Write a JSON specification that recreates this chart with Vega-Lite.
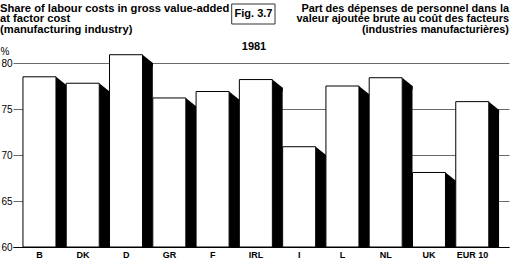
{
  "$schema": "https://vega.github.io/schema/vega-lite/v6.json",
  "width": 496,
  "height": 184,
  "autosize": "none",
  "padding": {"left": 13, "top": 63, "right": 5, "bottom": 21},
  "background": "white",
  "config": {"view": {"stroke": null}, "font": "Liberation Sans"},
  "layer": [
    {
      "data": {
        "values": [
          {"country": "B", "share": 78.5},
          {"country": "DK", "share": 77.8},
          {"country": "D", "share": 80.9},
          {"country": "GR", "share": 76.2},
          {"country": "F", "share": 76.9},
          {"country": "IRL", "share": 78.2},
          {"country": "I", "share": 70.9},
          {"country": "L", "share": 77.5},
          {"country": "NL", "share": 78.4},
          {"country": "UK", "share": 68.1},
          {"country": "EUR 10", "share": 75.8}
        ]
      },
      "encoding": {
        "x": {
          "field": "country",
          "type": "nominal",
          "sort": null,
          "scale": {"paddingInner": 0, "paddingOuter": 0.23},
          "axis": {
            "title": null,
            "domainColor": "black",
            "domainWidth": 1,
            "ticks": false,
            "labelAngle": 0,
            "labelFont": "Liberation Sans",
            "labelFontWeight": "bold",
            "labelFontSize": 9,
            "labelColor": "black",
            "labelPadding": 3,
            "labelOffset": -5
          }
        },
        "y": {
          "field": "share",
          "type": "quantitative",
          "scale": {"domain": [60, 80], "nice": false, "zero": false, "clamp": false},
          "axis": {
            "values": [60, 65, 70, 75, 80],
            "grid": true,
            "gridColor": "#444444",
            "gridWidth": 0.8,
            "domain": false,
            "ticks": false,
            "labelPadding": 1,
            "labelFontSize": 10,
            "labelColor": "black",
            "title": "%",
            "titleAngle": 0,
            "titleX": -13,
            "titleY": -9,
            "titleAlign": "left",
            "titleBaseline": "alphabetic",
            "titleFontWeight": "normal",
            "titleFontSize": 10,
            "titleColor": "black"
          }
        }
      },
      "layer": [
        {
          "mark": {"type": "bar", "color": "black", "width": 10.3, "xOffset": 16.5, "yOffset": 8.3},
          "encoding": {"y2": {"datum": 60}}
        },
        {
          "mark": {
            "type": "point",
            "shape": "M0,0L1.03,0.83L1.03,1.2L0,1.2Z",
            "filled": true,
            "color": "black",
            "opacity": 1,
            "strokeWidth": 0,
            "size": 400,
            "xOffset": 11.4
          }
        },
        {
          "mark": {"type": "bar", "fill": "white", "stroke": "black", "strokeWidth": 1, "width": 33, "xOffset": -5.14},
          "encoding": {"y2": {"datum": 60}}
        }
      ]
    },
    {
      "data": {"values": [{}]},
      "mark": {
        "type": "text",
        "text": ["Share of labour costs in gross value-added", "at factor cost", "(manufacturing industry)"],
        "font": "Liberation Sans",
        "fontWeight": "bold",
        "fontSize": 11.2,
        "lineHeight": 10.5,
        "align": "left",
        "baseline": "alphabetic",
        "color": "black"
      },
      "encoding": {"x": {"value": -13}, "y": {"value": -51.5}}
    },
    {
      "data": {"values": [{}]},
      "mark": {"type": "rect", "fill": "white", "stroke": "#333333", "strokeWidth": 1},
      "encoding": {
        "x": {"value": 218.7},
        "x2": {"value": 262},
        "y": {"value": -59},
        "y2": {"value": -39}
      }
    },
    {
      "data": {"values": [{}]},
      "mark": {"type": "text", "text": "Fig. 3.7", "font": "Liberation Sans", "fontWeight": "bold", "fontSize": 11, "align": "center", "baseline": "middle", "color": "black"},
      "encoding": {"x": {"value": 240.5}, "y": {"value": -49}}
    },
    {
      "data": {"values": [{}]},
      "mark": {"type": "text", "text": "1981", "font": "Liberation Sans", "fontWeight": "bold", "fontSize": 11, "align": "center", "baseline": "middle", "color": "black"},
      "encoding": {"x": {"value": 241}, "y": {"value": -16}}
    },
    {
      "data": {"values": [{}]},
      "mark": {
        "type": "text",
        "text": ["Part des dépenses de personnel dans la", "valeur ajoutée brute au coût des facteurs", "(industries manufacturières)"],
        "font": "Liberation Sans",
        "fontWeight": "bold",
        "fontSize": 10.9,
        "lineHeight": 10.5,
        "align": "right",
        "baseline": "alphabetic",
        "color": "black"
      },
      "encoding": {"x": {"value": 496}, "y": {"value": -51.5}}
    }
  ]
}
